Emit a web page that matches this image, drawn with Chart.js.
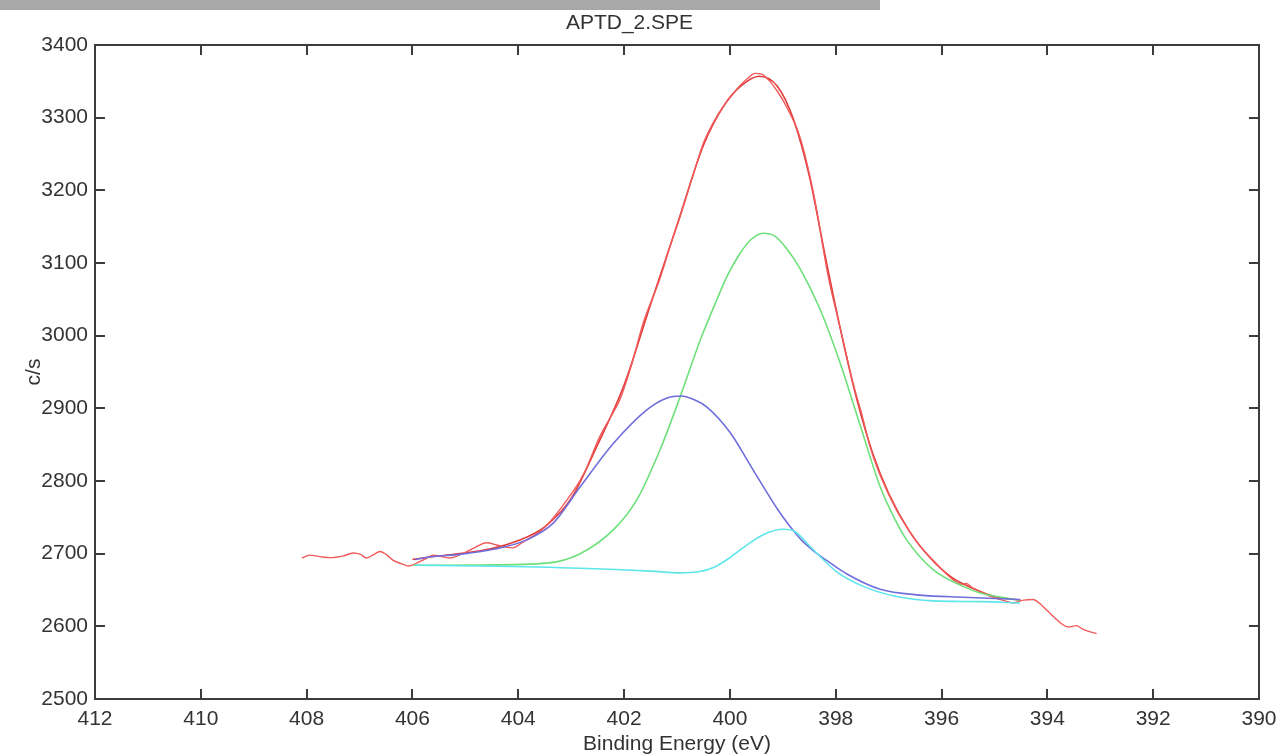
<!DOCTYPE html>
<html>
<head>
<meta charset="utf-8">
<script src="https://cdn.jsdelivr.net/npm/chart.js@4.4.0/dist/chart.umd.min.js"></script>
<style>
  html, body { margin: 0; padding: 0; background: #fff; }
</style>
</head>
<body>
<canvas id="xps" width="1279" height="755"></canvas>
<script>
// binding energy (eV) / counts per second
const rawEnergy = [408.09, 407.94, 407.75, 407.56, 407.3, 407.12, 406.98, 406.87, 406.75, 406.61, 406.48, 406.37, 406.2, 406.08, 405.92, 405.75, 405.61, 405.45, 405.29, 405.12, 404.97, 404.78, 404.6, 404.41, 404.25, 404.1, 403.95, 403.84, 403.6, 403.4, 403.1, 402.83, 402.71, 402.46, 402.28, 402.08, 401.85, 401.64, 401.32, 401.1, 400.94, 400.7, 400.5, 400.3, 400.13, 399.95, 399.81, 399.65, 399.53, 399.4, 399.27, 399.1, 398.93, 398.68, 398.42, 398.14, 397.92, 397.67, 397.5, 397.35, 397.2, 397.04, 396.85, 396.66, 396.4, 396.16, 395.95, 395.78, 395.62, 395.53, 395.42, 395.27, 395.1, 394.9, 394.75, 394.64, 394.55, 394.45, 394.27, 394.15, 394.08, 393.95, 393.82, 393.7, 393.6, 393.45, 393.35, 393.26, 393.07];
const rawCounts = [2694, 2698, 2696, 2694.5, 2697, 2701, 2699, 2694, 2698, 2703, 2698, 2691, 2686, 2683, 2687, 2693, 2698, 2696, 2694, 2698, 2703, 2710, 2715, 2712, 2709, 2708, 2714, 2719, 2730, 2744, 2772, 2801, 2818, 2861, 2885, 2912, 2962, 3017, 3079, 3130, 3164, 3220, 3265, 3295, 3315, 3332, 3344, 3355, 3361, 3360, 3352, 3336, 3315, 3274, 3196, 3081, 3012, 2934, 2890, 2847, 2815, 2788, 2760, 2737, 2710, 2691, 2675, 2664, 2658, 2659, 2653, 2648, 2642, 2637, 2634, 2632, 2634, 2636, 2637, 2632, 2627, 2618, 2609, 2602, 2599, 2601, 2597, 2594, 2590];

const envEnergy = [406.0, 405.6, 405.1, 404.5, 404.0, 403.5, 403.0, 402.5, 402.0, 401.5, 401.0, 400.5, 400.1, 399.8, 399.45, 399.1, 398.8, 398.5, 398.2, 397.9, 397.6, 397.3, 397.0, 396.6, 396.2, 395.8, 395.4, 395.0, 394.5];
const envCounts = [2692, 2696, 2700, 2707, 2718, 2737, 2776, 2850, 2932, 3043, 3152, 3262, 3318, 3343, 3357, 3343, 3298, 3220, 3110, 3005, 2912, 2838, 2783, 2730, 2693, 2667, 2652, 2641, 2636];

const blueEnergy = [405.95, 405.61, 405.1, 404.47, 403.84, 403.34, 402.83, 402.2, 401.57, 401.2, 400.92, 400.65, 400.44, 400.0, 399.56, 399.09, 398.87, 398.65, 398.42, 398.1, 397.79, 397.16, 396.41, 395.59, 394.52];
const blueCounts = [2692, 2696, 2699, 2706, 2719, 2742, 2792, 2852, 2898, 2914, 2917, 2911, 2902, 2867, 2815, 2760, 2738, 2719, 2704, 2687, 2672, 2651, 2643, 2640, 2637];

const greenEnergy = [405.98, 404.72, 403.46, 402.83, 402.2, 401.76, 401.32, 400.94, 400.56, 400.25, 400.06, 399.81, 399.62, 399.37, 399.15, 398.93, 398.68, 398.3, 397.92, 397.54, 397.16, 396.9, 396.66, 396.16, 395.59, 395.27, 394.52];
const greenCounts = [2684, 2684.5, 2687, 2700, 2733, 2774, 2843, 2916, 2994, 3049, 3081, 3113, 3131, 3141, 3137, 3120, 3093, 3037, 2963, 2877, 2792, 2750, 2719, 2678, 2655, 2646, 2636];

const cyanEnergy = [405.95, 404.72, 402.83, 401.5, 400.94, 400.6, 400.31, 400.05, 399.81, 399.37, 398.99, 398.8, 398.42, 397.98, 397.48, 396.85, 396.16, 395.27, 394.52];
const cyanCounts = [2684, 2683, 2680, 2676, 2673.5, 2675, 2681, 2692, 2705, 2726, 2733.5, 2731.5, 2705, 2675, 2655, 2641, 2635, 2634, 2632];

const xTicks = [412, 410, 408, 406, 404, 402, 400, 398, 396, 394, 392, 390];
const yTicks = [2500, 2600, 2700, 2800, 2900, 3000, 3100, 3200, 3300, 3400];

const FONT = '"Liberation Sans", Arial, sans-serif';
const INK = '#333';

function pts(xs, ys) {
    return xs.map((x, i) => ({ x: x, y: ys[i] }));
}

function line(data, color, width) {
    return {
        data: data,
        borderColor: color,
        borderWidth: width,
        pointRadius: 0,
        fill: false,
        cubicInterpolationMode: 'monotone'
    };
}

// grey strip, box frame and inward ticks on all four sides
const framePlugin = {
    id: 'frame',
    beforeDraw(chart) {
        const ctx = chart.ctx;
        ctx.save();
        ctx.fillStyle = '#a8a8a8';
        ctx.fillRect(0, 0, 880, 10);
        ctx.restore();
    },
    afterDatasetsDraw(chart) {
        const { ctx, chartArea: a, scales } = chart;
        const len = 10;
        ctx.save();
        ctx.strokeStyle = '#3c3c3c';
        ctx.lineWidth = 2;
        ctx.strokeRect(a.left, a.top, a.right - a.left, a.bottom - a.top);
        ctx.beginPath();
        xTicks.forEach(v => {
            const px = Math.round(scales.x.getPixelForValue(v));
            if (px <= a.left + 1 || px >= a.right - 1) return;
            ctx.moveTo(px, a.bottom);
            ctx.lineTo(px, a.bottom - len);
            ctx.moveTo(px, a.top);
            ctx.lineTo(px, a.top + len);
        });
        yTicks.forEach(v => {
            const py = Math.round(scales.y.getPixelForValue(v));
            if (py <= a.top + 1 || py >= a.bottom - 1) return;
            ctx.moveTo(a.left, py);
            ctx.lineTo(a.left + len, py);
            ctx.moveTo(a.right, py);
            ctx.lineTo(a.right - len, py);
        });
        ctx.stroke();
        ctx.restore();
    }
};

new Chart(document.getElementById('xps'), {
    type: 'line',
    data: {
        datasets: [
            line(pts(cyanEnergy, cyanCounts), '#5ee6ea', 1.6),
            line(pts(blueEnergy, blueCounts), '#6f6fdc', 1.6),
            line(pts(greenEnergy, greenCounts), '#6ee07a', 1.6),
            line(pts(rawEnergy, rawCounts), '#f05a5a', 1.4),
            line(pts(envEnergy, envCounts), '#e03a3a', 1.6)
        ]
    },
    options: {
        responsive: false,
        animation: false,
        layout: { padding: { left: 0, right: 20, top: 0, bottom: 0 } },
        plugins: {
            legend: { display: false },
            tooltip: { enabled: false },
            title: {
                display: true,
                text: 'APTD_2.SPE',
                color: INK,
                font: { family: FONT, size: 21, weight: 'normal', lineHeight: 1 },
                padding: { top: 13, bottom: 11 }
            }
        },
        scales: {
            x: {
                type: 'linear',
                reverse: true,
                min: 390,
                max: 412,
                afterBuildTicks: s => { s.ticks = xTicks.map(v => ({ value: v })); },
                ticks: { color: INK, padding: 8, font: { family: FONT, size: 21 }, callback: v => String(v) },
                grid: { display: false, drawTicks: false },
                border: { display: false },
                title: {
                    display: true,
                    text: 'Binding Energy (eV)',
                    color: INK,
                    font: { family: FONT, size: 21, lineHeight: 1 },
                    padding: { top: 0, bottom: 0 }
                },
                afterFit: s => { s.height = 56; s.paddingLeft = 0; s.paddingRight = 0; }
            },
            y: {
                type: 'linear',
                min: 2500,
                max: 3400,
                afterBuildTicks: s => { s.ticks = yTicks.map(v => ({ value: v })); },
                ticks: { color: INK, padding: 7, font: { family: FONT, size: 21 }, callback: v => String(v) },
                grid: { display: false, drawTicks: false },
                border: { display: false },
                title: {
                    display: true,
                    text: 'c/s',
                    color: INK,
                    font: { family: FONT, size: 21, lineHeight: 1 },
                    padding: { top: 24, bottom: 0 }
                },
                afterFit: s => { s.width = 95; s.paddingTop = 0; s.paddingBottom = 0; }
            }
        }
    },
    plugins: [framePlugin]
});
</script>
</body>
</html>
